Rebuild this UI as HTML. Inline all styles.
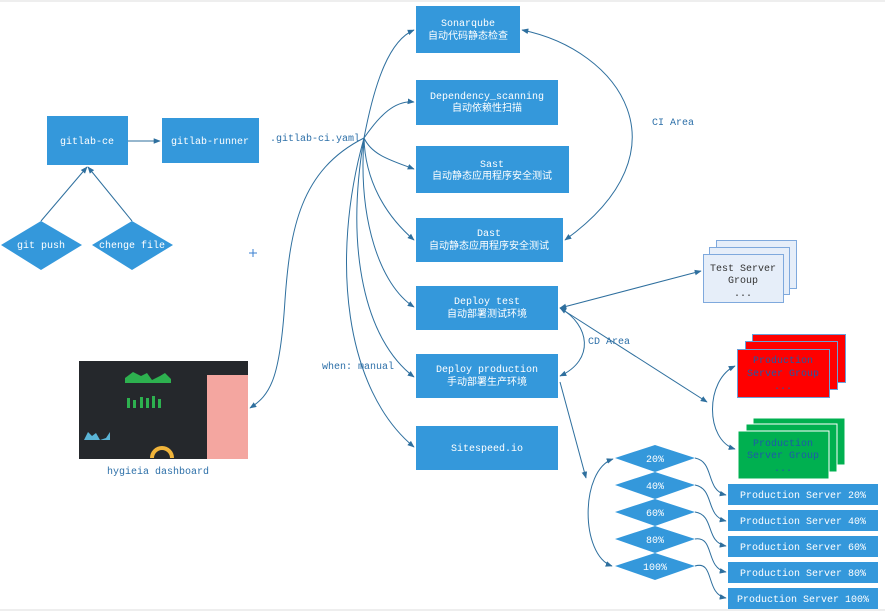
<!DOCTYPE html>
<html><head><meta charset="utf-8"><style>
html,body{margin:0;padding:0;background:#fff;width:885px;height:612px;overflow:hidden}
svg{display:block}
text{font-family:"Liberation Mono","Noto Sans CJK SC",monospace;font-size:10px}
.w{fill:#fff}
.b{fill:#3498db}
.l{fill:none;stroke:#2e6f9e;stroke-width:1}
.t{fill:#2c6fa8}
</style></head><body>
<svg width="885" height="612" viewBox="0 0 885 612" xmlns="http://www.w3.org/2000/svg">
<defs>
<marker id="a" viewBox="0 0 10 10" refX="9" refY="5" markerWidth="7" markerHeight="7" orient="auto-start-reverse"><path d="M0,1 L10,5 L0,9 z" fill="#2e6f9e"/></marker>
</defs>
<line x1="0" y1="1" x2="885" y2="1" stroke="#ddd"/>
<line x1="0" y1="610" x2="885" y2="610" stroke="#ddd"/>

<!-- left -->
<rect x="47" y="116" width="81" height="49" class="b"/>
<text x="87" y="144" text-anchor="middle" class="w">gitlab-ce</text>
<rect x="162" y="118" width="97" height="45" class="b"/>
<text x="210" y="144" text-anchor="middle" class="w">gitlab-runner</text>
<line x1="128" y1="141" x2="160" y2="141" class="l" marker-end="url(#a)"/>
<polygon points="1,245 41,221 82,245 41,270" class="b"/>
<text x="41" y="248" text-anchor="middle" class="w">git push</text>
<polygon points="92,245 132,221 173,245 132,270" class="b"/>
<text x="132" y="248" text-anchor="middle" class="w">chenge file</text>
<line x1="41" y1="221" x2="87" y2="167" class="l" marker-end="url(#a)"/>
<line x1="132" y1="221" x2="88" y2="167" class="l" marker-end="url(#a)"/>
<text x="270" y="141" class="t">.gitlab-ci.yaml</text>
<path d="M249,253 h8 M253,249 v8" stroke="#3a7fd0"/>

<!-- dashboard -->
<rect x="79" y="361" width="169" height="98" fill="#25282c"/>
<rect x="207" y="375" width="41" height="84" fill="#f4a6a0"/>
<path d="M125,378 l8,-6 8,4 6,-3 5,7 8,-4 5,-3 6,6 v4 h-46z" fill="#2db14f"/>
<g fill="#2db14f"><rect x="127" y="398" width="3" height="10"/><rect x="133" y="400" width="3" height="8"/><rect x="140" y="397" width="3" height="11"/><rect x="146" y="398" width="3" height="10"/><rect x="152" y="396" width="3" height="12"/><rect x="158" y="399" width="3" height="9"/></g>
<path d="M84,440 l4,-8 4,4 4,-3 4,7 6,-2 4,-6 v8 h-26z" fill="#5ab4d6"/>
<path d="M152,458 a10,10 0 0 1 20,0" stroke="#f0b43a" stroke-width="4" fill="none"/>
<text x="158" y="474" text-anchor="middle" class="t">hygieia dashboard</text>
<path d="M364,138 C300,170 290,230 285,300 C280,380 270,395 250,408" class="l" marker-end="url(#a)"/>

<!-- middle boxes -->
<rect x="416" y="6" width="104" height="47" class="b"/>
<text x="468" y="26" text-anchor="middle" class="w">Sonarqube</text>
<text x="468" y="39" text-anchor="middle" class="w">自动代码静态检查</text>
<rect x="416" y="80" width="142" height="45" class="b"/>
<text x="487" y="99" text-anchor="middle" class="w">Dependency_scanning</text>
<text x="487" y="111" text-anchor="middle" class="w">自动依赖性扫描</text>
<rect x="416" y="146" width="153" height="47" class="b"/>
<text x="492" y="167" text-anchor="middle" class="w">Sast</text>
<text x="492" y="179" text-anchor="middle" class="w">自动静态应用程序安全测试</text>
<rect x="416" y="218" width="147" height="44" class="b"/>
<text x="489" y="236" text-anchor="middle" class="w">Dast</text>
<text x="489" y="249" text-anchor="middle" class="w">自动静态应用程序安全测试</text>
<rect x="416" y="286" width="142" height="44" class="b"/>
<text x="487" y="304" text-anchor="middle" class="w">Deploy test</text>
<text x="487" y="317" text-anchor="middle" class="w">自动部署测试环境</text>
<rect x="416" y="354" width="142" height="44" class="b"/>
<text x="487" y="372" text-anchor="middle" class="w">Deploy production</text>
<text x="487" y="385" text-anchor="middle" class="w">手动部署生产环境</text>
<rect x="416" y="426" width="142" height="44" class="b"/>
<text x="487" y="451" text-anchor="middle" class="w">Sitespeed.io</text>

<!-- yaml fan -->
<path d="M364,138 C375,80 390,40 414,30" class="l" marker-end="url(#a)"/>
<path d="M364,138 C380,115 395,100 414,102" class="l" marker-end="url(#a)"/>
<path d="M364,138 C372,155 390,160 414,169" class="l" marker-end="url(#a)"/>
<path d="M364,138 C365,180 385,215 414,240" class="l" marker-end="url(#a)"/>
<path d="M364,138 C358,220 380,285 414,307" class="l" marker-end="url(#a)"/>
<path d="M364,138 C345,250 365,340 414,377" class="l" marker-end="url(#a)"/>
<path d="M364,138 C330,260 345,390 414,447" class="l" marker-end="url(#a)"/>
<text x="322" y="369" class="t">when: manual</text>

<!-- CI area -->
<path d="M522,30 C620,50 690,150 565,240" class="l" marker-start="url(#a)" marker-end="url(#a)"/>
<text x="652" y="125" class="t">CI Area</text>

<!-- CD area -->
<path d="M560,308 C590,325 595,360 560,376" class="l" marker-start="url(#a)" marker-end="url(#a)"/>
<text x="588" y="344" class="t">CD Area</text>
<line x1="560" y1="308" x2="701" y2="271" class="l" marker-start="url(#a)" marker-end="url(#a)"/>
<line x1="560" y1="308" x2="707" y2="402" class="l" marker-end="url(#a)"/>
<line x1="560" y1="382" x2="586" y2="478" class="l" marker-end="url(#a)"/>

<!-- test server group -->
<rect x="716.5" y="240.5" width="80" height="48" fill="#e6eef9" stroke="#7fa9dd"/>
<rect x="709.5" y="247.5" width="80" height="47" fill="#e6eef9" stroke="#7fa9dd"/>
<rect x="703.5" y="254.5" width="80" height="48" fill="#e6eef9" stroke="#7fa9dd"/>
<text x="743" y="271" text-anchor="middle" fill="#333">Test Server</text>
<text x="743" y="283" text-anchor="middle" fill="#333">Group</text>
<text x="743" y="296" text-anchor="middle" fill="#333">...</text>

<!-- red -->
<rect x="752.5" y="334.5" width="93" height="48" fill="#f00" stroke="#6a9fd8"/>
<rect x="745.5" y="341.5" width="92" height="48" fill="#f00" stroke="#6a9fd8"/>
<rect x="737.5" y="349.5" width="92" height="48" fill="#f00" stroke="#6a9fd8"/>
<text x="783" y="363" text-anchor="middle" fill="#1e5aa8">Production</text>
<text x="783" y="376" text-anchor="middle" fill="#1e5aa8">Server Group</text>
<text x="783" y="389" text-anchor="middle" fill="#1e5aa8">...</text>
<!-- green -->
<rect x="753" y="418" width="92" height="47" fill="#00b050" stroke="#fff"/>
<rect x="746" y="424" width="91" height="48" fill="#00b050" stroke="#fff"/>
<rect x="738" y="431" width="91" height="48" fill="#00b050" stroke="#fff"/>
<text x="783" y="446" text-anchor="middle" fill="#1e5aa8">Production</text>
<text x="783" y="458" text-anchor="middle" fill="#1e5aa8">Server Group</text>
<text x="783" y="471" text-anchor="middle" fill="#1e5aa8">...</text>
<path d="M735,366 C705,380 705,440 735,449" class="l" marker-start="url(#a)" marker-end="url(#a)"/>

<!-- percent diamonds -->
<g class="b">
<polygon points="615,458 655,445 695,458 655,472"/>
<polygon points="615,485 655,472 695,485 655,499"/>
<polygon points="615,512 655,499 695,512 655,526"/>
<polygon points="615,539 655,526 695,539 655,553"/>
<polygon points="615,566 655,553 695,566 655,580"/>
</g>
<g class="w" text-anchor="middle">
<text x="655" y="462">20%</text><text x="655" y="489">40%</text><text x="655" y="516">60%</text><text x="655" y="543">80%</text><text x="655" y="570">100%</text>
</g>
<path d="M613,459 C580,470 580,555 612,566" class="l" marker-start="url(#a)" marker-end="url(#a)"/>

<g class="b">
<rect x="728" y="484" width="150" height="21"/>
<rect x="728" y="510" width="150" height="21"/>
<rect x="728" y="536" width="150" height="21"/>
<rect x="728" y="562" width="150" height="21"/>
<rect x="728" y="588" width="150" height="21"/>
</g>
<g class="w" text-anchor="middle">
<text x="803" y="498">Production Server 20%</text>
<text x="803" y="524">Production Server 40%</text>
<text x="803" y="550">Production Server 60%</text>
<text x="803" y="576">Production Server 80%</text>
<text x="803" y="602">Production Server 100%</text>
</g>
<path d="M695,458 C715,462 705,490 726,495" class="l" marker-end="url(#a)"/>
<path d="M695,485 C715,489 705,516 726,521" class="l" marker-end="url(#a)"/>
<path d="M695,512 C715,515 705,542 726,546" class="l" marker-end="url(#a)"/>
<path d="M695,539 C715,536 705,568 726,572" class="l" marker-end="url(#a)"/>
<path d="M695,566 C715,560 705,594 726,598" class="l" marker-end="url(#a)"/>
</svg>
</body></html>
